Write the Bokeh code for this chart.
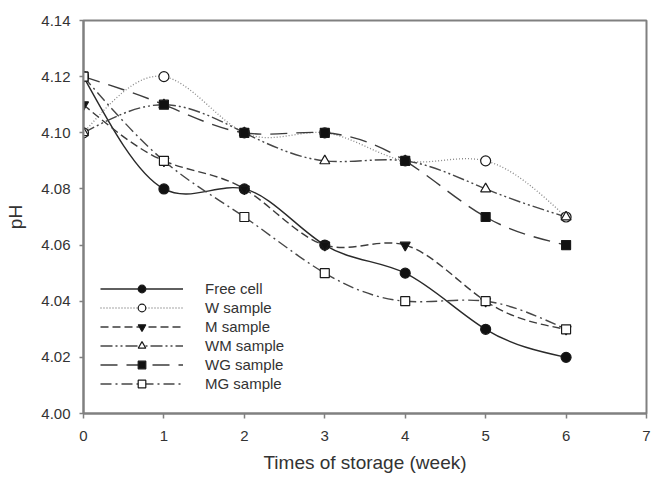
import numpy as np
from bokeh.plotting import figure
from bokeh.models import FixedTicker, Legend, LegendItem, Range1d
from bokeh.embed import file_html
from bokeh.resources import INLINE

# ---------------- data ----------------
weeks = [0, 1, 2, 3, 4, 5, 6]
free_cell = [4.12, 4.08, 4.08, 4.06, 4.05, 4.03, 4.02]
w_sample = [4.10, 4.12, 4.10, 4.10, 4.09, 4.09, 4.07]
m_sample = [4.11, 4.09, 4.08, 4.06, 4.06, 4.04, 4.03]
wm_sample = [4.10, 4.11, 4.10, 4.09, 4.09, 4.08, 4.07]
wg_sample = [4.12, 4.11, 4.10, 4.10, 4.09, 4.07, 4.06]
mg_sample = [4.12, 4.09, 4.07, 4.05, 4.04, 4.04, 4.03]
series_names = ["Free cell", "W sample", "M sample", "WM sample", "WG sample", "MG sample"]
series_values = [free_cell, w_sample, m_sample, wm_sample, wg_sample, mg_sample]

x_ticks = [0, 1, 2, 3, 4, 5, 6, 7]
y_ticks = [4.00, 4.02, 4.04, 4.06, 4.08, 4.10, 4.12, 4.14]
y_tick_labels = ["4.00", "4.02", "4.04", "4.06", "4.08", "4.10", "4.12", "4.14"]
x_title = "Times of storage (week)"
y_title = "pH"

# ---------------- styles ----------------
styles = [
    dict(line_color="#2a2a2a", line_dash="solid", line_width=1.4, marker="circle", fill="#111111", size=10),
    dict(line_color="#888888", line_dash="1 2", line_width=1.3, marker="circle", fill="white", size=10),
    dict(line_color="#3c3c3c", line_dash="8 4", line_width=1.4, marker="inverted_triangle", fill="#111111", size=10),
    dict(line_color="#474747", line_dash="12 3 2 3 2 3", line_width=1.4, marker="triangle", fill="white", size=10),
    dict(line_color="#3c3c3c", line_dash="17 9", line_width=1.4, marker="square", fill="#111111", size=9),
    dict(line_color="#474747", line_dash="11 4 2 4", line_width=1.4, marker="square", fill="white", size=9),
]
FONT = "Liberation Sans"
AXIS_GRAY = "#808080"


def spline_bezier(x, y):
    """Natural cubic spline through the points, expressed as cubic Bezier segments."""
    x = np.asarray(x, float)
    y = np.asarray(y, float)
    n = len(x)
    h = np.diff(x)
    A = np.zeros((n, n))
    b = np.zeros(n)
    A[0, 0] = 1.0
    A[-1, -1] = 1.0
    for i in range(1, n - 1):
        A[i, i - 1] = h[i - 1]
        A[i, i] = 2 * (h[i - 1] + h[i])
        A[i, i + 1] = h[i]
        b[i] = 6 * ((y[i + 1] - y[i]) / h[i] - (y[i] - y[i - 1]) / h[i - 1])
    M = np.linalg.solve(A, b)
    m = np.zeros(n)
    for i in range(n - 1):
        m[i] = (y[i + 1] - y[i]) / h[i] - h[i] * (2 * M[i] + M[i + 1]) / 6
    m[-1] = (y[-1] - y[-2]) / h[-1] + h[-1] * (M[-2] + 2 * M[-1]) / 6
    return dict(
        x0=x[:-1], y0=y[:-1], x1=x[1:], y1=y[1:],
        cx0=x[:-1] + h / 3, cy0=y[:-1] + m[:-1] * h / 3,
        cx1=x[1:] - h / 3, cy1=y[1:] - m[1:] * h / 3,
    )


p = figure(
    width=652, height=477,
    x_range=Range1d(0, 7), y_range=Range1d(4.00, 4.14),
    output_backend="svg", toolbar_location=None,
    min_border_left=83, min_border_right=6, min_border_top=20, min_border_bottom=64,
    background_fill_color="white", border_fill_color="white",
)
p.grid.visible = False
p.outline_line_color = AXIS_GRAY
p.outline_line_width = 2

# curves
for vals, st in zip(series_values, styles):
    seg = spline_bezier(weeks, vals)
    p.bezier(line_color=st["line_color"], line_dash=st["line_dash"], line_width=st["line_width"], **seg)

# markers (drawn after all curves)
legend_items = []
for name, vals, st in zip(series_names, series_values, styles):
    r_leg = p.line(weeks, vals, line_color=st["line_color"], line_dash=st["line_dash"],
                   line_width=st["line_width"], visible=False)
    r_pts = p.scatter(weeks, vals, marker=st["marker"], size=st["size"],
                      fill_color=st["fill"], line_color="#1a1a1a", line_width=1.2)
    legend_items.append(LegendItem(label=name, renderers=[r_leg, r_pts]))

legend = Legend(
    items=legend_items, location=(17, 20),
    glyph_width=83, glyph_height=19, label_height=19, spacing=0, label_standoff=22,
    padding=0, margin=0, border_line_alpha=0, background_fill_alpha=0,
    label_text_font=FONT, label_text_font_size="15px", label_text_color="#333333",
)
p.add_layout(legend)

# axes
p.xaxis.ticker = FixedTicker(ticks=x_ticks)
p.yaxis.ticker = FixedTicker(ticks=y_ticks)
p.yaxis.major_label_overrides = {t: l for t, l in zip(y_ticks, y_tick_labels)}
p.xaxis.axis_label = x_title
p.yaxis.axis_label = y_title

for ax in (p.xaxis, p.yaxis):
    ax.axis_line_color = AXIS_GRAY
    ax.axis_line_width = 2
    ax.major_tick_line_color = AXIS_GRAY
    ax.major_tick_line_width = 1.5
    ax.major_tick_in = 0
    ax.minor_tick_line_color = None
    ax.major_label_text_font = FONT
    ax.major_label_text_font_size = "15px"
    ax.major_label_text_color = "#333333"
    ax.axis_label_text_font = FONT
    ax.axis_label_text_font_size = "19px"
    ax.axis_label_text_font_style = "normal"
    ax.axis_label_text_color = "#333333"

p.xaxis.major_tick_out = 5
p.xaxis.major_label_standoff = 12
p.xaxis.axis_label_standoff = 8
p.yaxis.major_tick_out = 4
p.yaxis.major_label_standoff = 9
p.yaxis.axis_label_standoff = 12

open("out.html", "w").write(file_html(p, INLINE))
